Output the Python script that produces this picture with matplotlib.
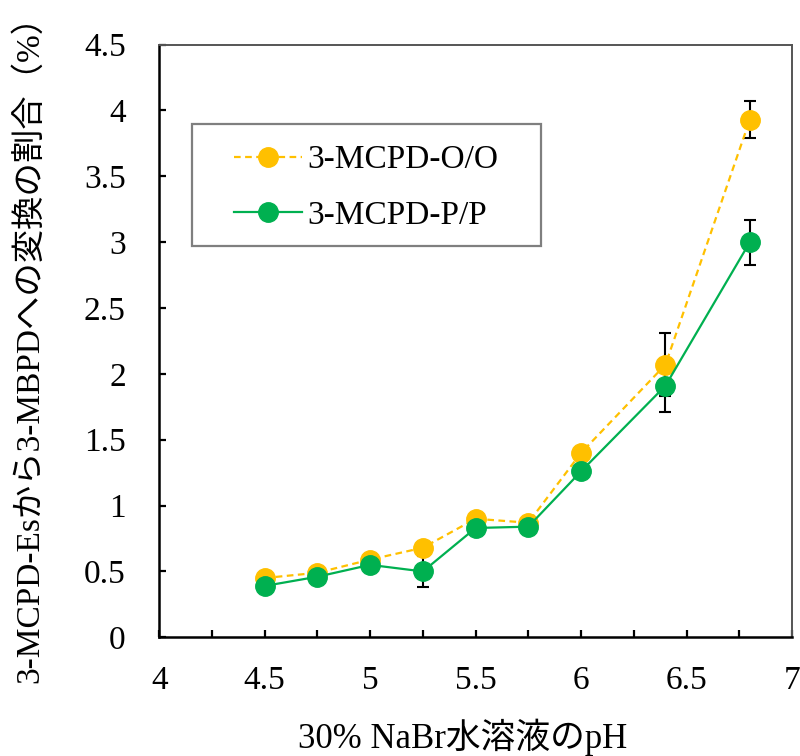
import matplotlib
matplotlib.use("Agg")
import matplotlib.pyplot as plt
from matplotlib.patches import Rectangle

plt.rcParams['font.family'] = ['Liberation Serif', 'Noto Sans CJK JP']

# pH of the 30% NaBr solution
ph = [4.5, 4.75, 5.0, 5.25, 5.5, 5.75, 6.0, 6.4, 6.8]

# Conversion ratio (%) and standard deviations
oo_vals = [0.45, 0.49, 0.59, 0.68, 0.90, 0.87, 1.40, 2.07, 3.93]
oo_err = [0.02, 0.02, 0.02, 0.02, 0.02, 0.02, 0.02, 0.24, 0.14]
pp_vals = [0.39, 0.46, 0.55, 0.50, 0.83, 0.84, 1.26, 1.91, 3.00]
pp_err = [0.02, 0.02, 0.02, 0.12, 0.02, 0.02, 0.02, 0.20, 0.17]

series_labels = ['3-MCPD-O/O', '3-MCPD-P/P']
xticks = [4, 4.5, 5, 5.5, 6, 6.5, 7]
xtick_labels = ['4', '4.5', '5', '5.5', '6', '6.5', '7']
yticks = [0, 0.5, 1, 1.5, 2, 2.5, 3, 3.5, 4, 4.5]
ytick_labels = ['0', '0.5', '1', '1.5', '2', '2.5', '3', '3.5', '4', '4.5']

fig = plt.figure(figsize=(8.0, 7.56), dpi=100)
ax = fig.add_axes([0.199, 0.157, 0.791, 0.784])

orange = '#FFC000'
green = '#00B050'

ax.errorbar(ph, oo_vals, yerr=oo_err, fmt='none', ecolor='black',
            elinewidth=1.5, capsize=4, capthick=1.5, zorder=2)
ax.errorbar(ph, pp_vals, yerr=pp_err, fmt='none', ecolor='black',
            elinewidth=1.5, capsize=4, capthick=1.5, zorder=2)

ax.plot(ph, oo_vals, color=orange, linestyle=(0, (3, 2)), linewidth=1.6,
        marker='o', markersize=14, markerfacecolor=orange,
        markeredgecolor=orange, label=series_labels[0], zorder=3)
ax.plot(ph, pp_vals, color=green, linestyle='-', linewidth=1.6,
        marker='o', markersize=14, markerfacecolor=green,
        markeredgecolor=green, label=series_labels[1], zorder=4)

ax.set_xlim(4, 7)
ax.set_ylim(0, 4.5)
ax.set_xticks(xticks)
ax.set_xticklabels(xtick_labels)
ax.set_xticks([4.25, 4.75, 5.25, 5.75, 6.25, 6.75], minor=True)
ax.set_yticks(yticks)
ax.set_yticklabels(ytick_labels)

ax.tick_params(axis='both', which='major', direction='in', length=5,
               width=1.6, labelsize=24, color='black')
ax.tick_params(axis='x', which='minor', direction='in', length=5,
               width=1.6, color='black')
ax.tick_params(axis='x', which='major', pad=20)
ax.tick_params(axis='y', which='major', pad=24)

for side in ['left', 'bottom']:
    ax.spines[side].set_color('black')
    ax.spines[side].set_linewidth(1.8)
for side in ['top', 'right']:
    ax.spines[side].set_color('#555555')
    ax.spines[side].set_linewidth(1.4)

ax.set_ylabel('3-MCPD-Esから3-MBPDへの変換の割合（%）', fontsize=24)
ax.yaxis.set_label_coords(-0.18, 0.5)
ax.set_xlabel('30% NaBr水溶液のpH', fontsize=25)
ax.xaxis.set_label_coords(0.48, -0.137)

# legend frame
ax.add_patch(Rectangle((0.052, 0.6605), 0.551, 0.206, transform=ax.transAxes,
                       facecolor='white', edgecolor='#7f7f7f', linewidth=1.6,
                       zorder=5))
leg = ax.legend(loc='upper left', bbox_to_anchor=(0.118, 0.831),
                fontsize=24, frameon=False, borderpad=0.0,
                labelspacing=0.75, handlelength=2.05, handletextpad=0.15,
                borderaxespad=0.0)
leg.set_zorder(6)
for h in leg.legend_handles:
    h.set_markersize(14)

fig.savefig('out.png', dpi=100, facecolor='white')
